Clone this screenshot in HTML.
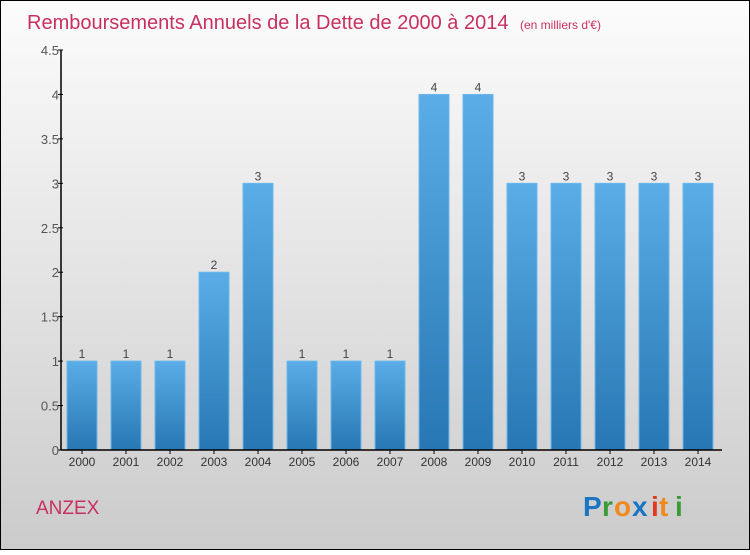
<!DOCTYPE html>
<html><head><meta charset="utf-8"><style>
body{margin:0}
svg text{font-family:"Liberation Sans",sans-serif}
</style></head><body>
<svg id="c" width="750" height="550" xmlns="http://www.w3.org/2000/svg">
<defs>
<linearGradient id="bg" x1="0" y1="0" x2="0" y2="1"><stop offset="0" stop-color="#fcfcfc"/><stop offset="1" stop-color="#cbcbcb"/></linearGradient>
<linearGradient id="bar" x1="0" y1="0" x2="0" y2="1"><stop offset="0" stop-color="#5aade6"/><stop offset="1" stop-color="#2677b3"/></linearGradient>
</defs>
<rect x="0.5" y="0.5" width="749" height="549" fill="url(#bg)" stroke="#000"/>
<text x="27" y="29" font-size="20" fill="#c8305f">Remboursements Annuels de la Dette de 2000 à 2014 <tspan font-size="12" dx="6">(en milliers d'€)</tspan></text>
<text x="36" y="514" font-size="19" fill="#c8305f">ANZEX</text>
<g font-size="28" font-weight="bold" font-family="Liberation Sans, sans-serif">
<text x="583" y="516" fill="#1c74c4">P</text><text x="602" y="516" fill="#3a9a3a">r</text><text x="614" y="516" fill="#f08a1c">o</text><text x="632" y="516" fill="#1c74c4">x</text><text x="651" y="516" fill="#e03a20">i</text><text x="659" y="516" fill="#f08a1c">t</text><text x="675" y="516" fill="#3a9a3a">i</text>
</g>
<g id="plot"></g>
</svg>
<script>
const categories=["2000","2001","2002","2003","2004","2005","2006","2007","2008","2009","2010","2011","2012","2013","2014"];
const values=[1,1,1,2,3,1,1,1,4,4,3,3,3,3,3];
const yTicks=[0,0.5,1,1.5,2,2.5,3,3.5,4,4.5];
const yTickLabels=["0","0.5","1","1.5","2","2.5","3","3.5","4","4.5"];
const NS="http://www.w3.org/2000/svg";
const g=document.getElementById('plot');
const x0=61,y0=450,yTop=50,yMax=4.5,step=44,first=82,bw=30;
const ys=v=>y0-(v/yMax)*(y0-yTop);
const xs=i=>first+i*step;
function mk(t,a){const e=document.createElementNS(NS,t);for(const k in a)e.setAttribute(k,a[k]);g.appendChild(e);return e;}
values.forEach((v,i)=>{
 const r=mk('rect',{x:xs(i)-bw/2,y:ys(v),width:bw,height:y0-ys(v),fill:'url(#bar)',stroke:'#6bb8ec','stroke-width':1});
 
 
 const t=mk('text',{x:xs(i),y:ys(v)-3,'text-anchor':'middle','font-size':12,fill:'#444'});t.textContent=v;
 
 
 const c=mk('text',{x:xs(i),y:y0+16,'text-anchor':'middle','font-size':12,fill:'#333'});c.textContent=categories[i];
 
 
 const tk=mk('line',{x1:xs(i),x2:xs(i),y1:y0,y2:y0+4,stroke:'#000'});
 
 
});
yTicks.forEach((v,i)=>{
 const l=mk('line',{x1:x0-3,x2:x0+2,y1:ys(v),y2:ys(v),stroke:'#000'});
 
 
 const t=mk('text',{x:x0-2,y:ys(v)+5,'text-anchor':'end','font-size':13,fill:'#555'});t.textContent=yTickLabels[i];
 
 
});
const ya=mk('line',{x1:x0,x2:x0,y1:yTop,y2:y0,stroke:'#000','stroke-width':1.5});


const xa=mk('line',{x1:x0,x2:722,y1:y0,y2:y0,stroke:'#000','stroke-width':1.5});


</script>
</body></html>
